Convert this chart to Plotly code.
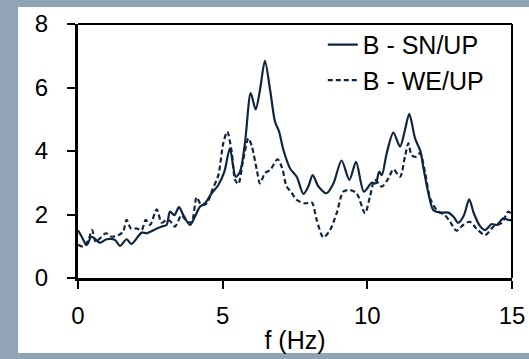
import plotly.graph_objects as go

f_sn = [0.0, 0.13, 0.3, 0.47, 0.76, 0.99, 1.28, 1.45, 1.68, 1.85, 2.2, 2.37, 2.66, 2.89, 3.06,
        3.18, 3.33, 3.49, 3.64, 3.87, 4.04, 4.22, 4.39, 4.62, 4.85, 5.06, 5.25, 5.45, 5.6,
        5.77, 5.97, 6.14, 6.29, 6.46, 6.64, 6.81, 6.95, 7.1, 7.33, 7.56, 7.79, 7.96, 8.11,
        8.31, 8.59, 8.83, 9.11, 9.38, 9.61, 9.88, 10.15, 10.29, 10.41, 10.5, 10.67, 10.9,
        11.13, 11.3, 11.45, 11.65, 11.84, 11.93, 12.11, 12.28, 12.51, 12.8, 12.98, 13.14,
        13.34, 13.52, 13.68, 13.89, 14.07, 14.3, 14.47, 14.7, 14.87, 15.0]
v_sn = [1.5, 1.3, 1.04, 1.3, 1.11, 1.22, 1.2, 1.01, 1.22, 1.07, 1.43, 1.41, 1.53, 1.62, 1.67,
        2.09, 1.98, 2.23, 1.98, 1.67, 1.93, 2.25, 2.35, 2.67, 2.93, 3.35, 4.08, 3.19, 3.35,
        4.24, 5.82, 5.31, 5.92, 6.84, 5.92, 4.92, 4.61, 4.03, 3.45, 3.19, 2.65, 2.88, 3.24,
        2.88, 2.67, 2.98, 3.7, 3.09, 3.66, 2.72, 3.0, 2.98, 3.35, 3.24, 3.93, 4.58,
        4.14, 4.66, 5.17, 4.4, 3.98, 3.51, 2.67, 2.14, 2.06, 2.06, 1.93, 1.74,
        1.98, 2.48, 2.04, 1.64, 1.51, 1.7, 1.67, 1.88, 1.83, 1.82]

f_we = [0.0, 0.19, 0.36, 0.49, 0.61, 0.76, 0.96, 1.16, 1.39, 1.56, 1.68, 1.83, 2.03, 2.2,
        2.34, 2.49, 2.72, 2.89, 3.06, 3.18, 3.35, 3.58, 3.76, 3.93, 4.1, 4.26, 4.45, 4.64,
        4.85, 5.02, 5.16, 5.31, 5.43, 5.54, 5.71, 5.89, 6.01, 6.18, 6.29, 6.46, 6.64, 6.9,
        7.06, 7.21, 7.38, 7.56, 7.85, 8.08, 8.25, 8.48, 8.71, 8.94, 9.17, 9.4, 9.63, 9.92,
        10.09, 10.26, 10.5, 10.73, 10.9, 11.13, 11.3, 11.42, 11.53, 11.68, 11.82, 12.0,
        12.17, 12.4, 12.68, 12.86, 13.08, 13.31, 13.54, 13.77, 14.07, 14.36, 14.65, 14.87, 15.0]
v_we = [1.05, 0.99, 1.2, 1.51, 1.14, 1.25, 1.41, 1.3, 1.35, 1.46, 1.83, 1.56, 1.56, 1.51,
        1.83, 1.67, 2.16, 1.74, 1.83, 1.8, 1.62, 1.98, 1.77, 1.77, 2.54, 2.3, 2.35, 2.77,
        3.24, 4.24, 4.61, 3.98, 3.09, 2.96, 3.72, 4.4, 4.14, 3.4, 2.98, 3.3, 3.4, 3.74,
        3.45, 2.88, 2.69, 2.46, 2.35, 2.38, 1.83, 1.28, 1.51, 2.04, 2.72, 2.77, 2.67, 2.04,
        2.56, 3.09, 2.88, 3.14, 3.42, 3.19, 3.82, 4.24, 3.87, 3.82, 3.93, 3.3,
        2.51, 2.14, 1.98, 1.77, 1.49, 1.67, 1.77, 1.56, 1.35, 1.62, 1.74, 2.09, 1.98]

x_ticks = [0, 5, 10, 15]
y_ticks = [0, 2, 4, 6, 8]

navy = "#10263f"
bg = "#91a4b6"
font = "Liberation Sans, Arial, sans-serif"

fig = go.Figure()
fig.add_trace(go.Scatter(x=f_sn, y=v_sn, mode="lines", name="B - SN/UP",
                         line=dict(color=navy, width=2.2, shape="spline", smoothing=0.8)))
fig.add_trace(go.Scatter(x=f_we, y=v_we, mode="lines", name="B - WE/UP",
                         line=dict(color=navy, width=2.2, dash="5px,3px", shape="spline", smoothing=0.8)))

# white panel
fig.add_shape(type="rect", xref="paper", yref="paper", x0=-0.138, x1=1.06, y0=-0.295, y1=1.067,
              fillcolor="white", line=dict(width=0), layer="below")
# box top and right
fig.add_shape(type="line", xref="paper", yref="paper", x0=0, x1=1, y0=1, y1=1,
              line=dict(color="black", width=2))
fig.add_shape(type="line", xref="paper", yref="paper", x0=1, x1=1, y0=0, y1=1,
              line=dict(color="black", width=2))

fig.update_layout(
    width=529, height=359,
    margin=dict(l=78, r=17, t=24, b=81, autoexpand=False),
    paper_bgcolor=bg,
    plot_bgcolor="white",
    font=dict(family=font, color="black"),
    showlegend=True,
    legend=dict(x=0.564, y=1.008, xanchor="left", yanchor="top", bgcolor="rgba(0,0,0,0)",
                font=dict(size=25, color="black"), tracegroupgap=0),
    xaxis=dict(range=[0, 15], tickvals=x_ticks, ticks="outside", ticklen=8, tickwidth=1.5,
               tickcolor="black", showline=True, linecolor="black", linewidth=3,
               showgrid=False, zeroline=False, tickfont=dict(size=24), automargin=False,
               ticklabelstandoff=6,
               title=dict(text="f (Hz)", font=dict(size=25), standoff=4)),
    yaxis=dict(range=[0, 8], tickvals=y_ticks, ticks="outside", ticklen=8, tickwidth=1.5,
               tickcolor="black", showline=True, linecolor="black", linewidth=3,
               showgrid=False, zeroline=False, tickfont=dict(size=24), automargin=False,
               ticklabelstandoff=14),
)

fig.write_html("out.html", config={"displayModeBar": False},
               post_script="document.body.style.margin='0px';document.body.style.padding='0px';"
                           "document.body.style.overflow='hidden';"
                           "document.body.style.background='" + bg + "';")
